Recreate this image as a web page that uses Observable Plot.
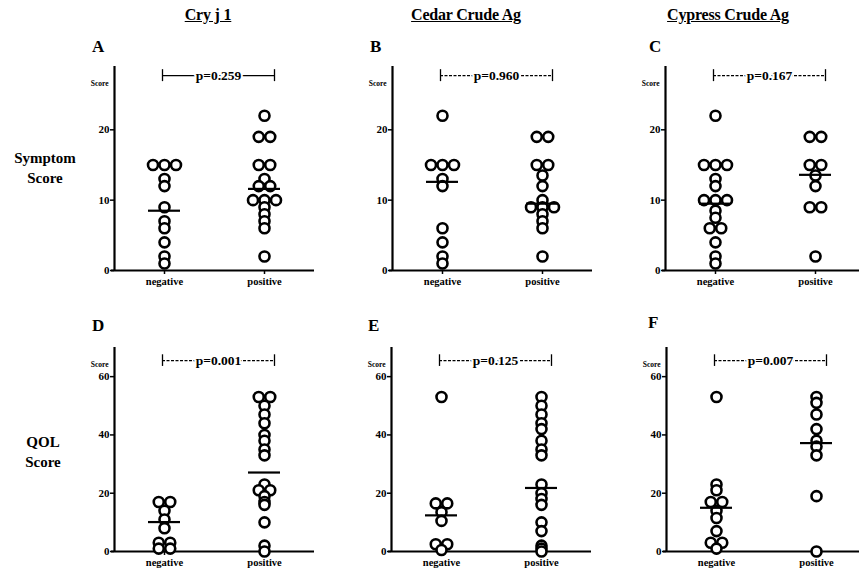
<!DOCTYPE html>
<html><head><meta charset="utf-8">
<script src="https://cdn.jsdelivr.net/npm/d3@7"></script>
<script src="https://cdn.jsdelivr.net/npm/@observablehq/plot@0.6"></script>
<style>
body{margin:0;background:#fff;}
#root{position:relative;width:859px;height:581px;overflow:hidden;font-family:"Liberation Serif",serif;color:#000;}
#root svg{max-width:none !important;overflow:visible;}
#root svg, #root svg text{font-family:"Liberation Serif",serif !important;}
.abs{position:absolute;}
.title{font-weight:bold;font-size:16px;text-decoration:underline;transform:translateX(-50%);white-space:nowrap;letter-spacing:-0.2px;}
.letter{font-weight:bold;font-size:17px;}
.row{font-weight:bold;font-size:15px;text-align:center;line-height:20px;transform:translateX(-50%);}
</style></head>
<body><div id="root"></div>
<script>
// ---- data ----
const categories = ["negative", "positive"];
const antigens = ["Cry j 1", "Cedar Crude Ag", "Cypress Crude Ag"];
const letters = ["A", "B", "C", "D", "E", "F"];
const rowLabels = [["Symptom", "Score"], ["QOL", "Score"]];

const symCryNeg   = [15, 15, 15, 13, 12, 9, 7, 6, 4, 2, 1];
const symCryPos   = [22, 19, 19, 15, 15, 13, 12, 12, 10, 10, 10, 9, 8, 7, 6, 2];
const symCedarNeg = [22, 15, 15, 15, 13, 12, 6, 4, 2, 1];
const symCedarPos = [19, 19, 15, 15, 13.5, 12, 10, 9, 9, 9, 8, 7, 6, 2];
const symCypNeg   = [22, 15, 15, 15, 13, 12, 10, 10, 10, 8.5, 7.5, 6, 6, 4, 2, 1];
const symCypPos   = [19, 19, 15, 15, 13.5, 12, 9, 9, 2];

const qolCryNeg   = [17, 17, 14, 11, 8, 3, 3, 1, 1];
const qolCryPos   = [53, 53, 50, 47, 44, 40, 38, 35, 33, 23, 21, 21, 19, 17, 16, 10, 2, 0];
const qolCedarNeg = [53, 16.5, 16.5, 13.5, 10.5, 2.5, 2.5, 0.5];
const qolCedarPos = [53, 50, 47, 44, 42, 38, 35, 33, 23, 20, 18, 16, 10, 7, 2, 1, 0];
const qolCypNeg   = [53, 23, 21, 17, 17, 14, 11.5, 7, 3, 3, 1];
const qolCypPos   = [53, 51, 47, 42, 38, 36, 33, 19, 0];

const meanSym = [[8.5, 11.6], [12.6, 9.5], [9.5, 13.6]];
const meanQol = [[10.1, 27.1], [12.4, 21.8], [15.0, 37.2]];
const pSym = ["0.259", "0.960", "0.167"];
const pQol = ["0.001", "0.125", "0.007"];
const symTicks = [0, 10, 20];
const qolTicks = [0, 20, 40, 60];

// ---- layout ----
const root = document.getElementById("root");
const axisLefts = [[114, 392, 665], [114, 391, 666]];
const frameTops = [66, 347];
const rows = [
  {vals: [[symCryNeg, symCryPos], [symCedarNeg, symCedarPos], [symCypNeg, symCypPos]], means: meanSym, p: pSym, yMax: 29, ticks: symTicks, bracketY: 27.7, half: 0.85},
  {vals: [[qolCryNeg, qolCryPos], [qolCedarNeg, qolCedarPos], [qolCypNeg, qolCypPos]], means: meanQol, p: pQol, yMax: 70, ticks: qolTicks, bracketY: 65.5, half: 2.0}
];

function swarm(values, ci) {
  const groups = d3.group(values, v => v);
  const out = [];
  for (const [v, arr] of groups) {
    arr.forEach((_, i) => out.push({x: ci + (i - (arr.length - 1) / 2) * 0.115, y: v}));
  }
  return out;
}

function addDiv(cls, left, top, html) {
  const d = document.createElement("div");
  d.className = "abs " + cls;
  d.style.left = left + "px"; d.style.top = top + "px";
  d.innerHTML = html;
  root.appendChild(d);
}

const titleCenters = [208, 466, 728];
antigens.forEach((t, i) => addDiv("title", titleCenters[i], 6, t));
addDiv("row", 45, 148, rowLabels[0].join("<br>"));
addDiv("row", 43, 432, rowLabels[1].join("<br>"));

const letterPos = [[92, 37], [370, 37], [649, 37], [92, 316], [368, 316], [648, 313]];

rows.forEach((row, r) => {
  for (let c = 0; c < 3; c++) {
    const pts = [...swarm(row.vals[c][0], 0), ...swarm(row.vals[c][1], 1)];
    const means = categories.map((_, i) => ({x1: i - 0.16, x2: i + 0.16, y: row.means[c][i]}));
    const b1 = -0.02, b2 = 1.1, by = row.bracketY, h = row.half;
    const label = "p=" + row.p[c];
    const dash = (r === 0 && c === 0) ? null : "3,1.5";
    const plot = Plot.plot({
      width: 255, height: 244,
      marginLeft: 50, marginRight: 5, marginTop: 10, marginBottom: 30,
      style: {fontWeight: "bold", fontSize: "11px", background: "transparent", overflow: "visible"},
      x: {domain: [-0.5, 1.5]},
      y: {domain: [0, row.yMax]},
      marks: [
        Plot.axisY({ticks: row.ticks, tickSize: 4, tickPadding: 1, tickFormat: d => d, label: null, fontSize: 11, fontWeight: "bold", strokeWidth: 1.5}),
        Plot.axisX({ticks: [0, 1], tickSize: 4, tickPadding: 3, tickFormat: i => categories[i], label: null, fontSize: 10.5, fontWeight: "bold", strokeWidth: 1.5}),
        Plot.ruleX([-0.5], {y1: 0, y2: row.yMax, strokeWidth: 2.2}),
        Plot.ruleY([0], {x1: -0.53, x2: 1.5, strokeWidth: 2.2}),
        Plot.text(["Score"], {frameAnchor: "top-left", textAnchor: "end", dx: -6, dy: 14, fontSize: 7.5, fontWeight: "bold"}),
        Plot.ruleY([by], {x1: b1, x2: b2, strokeWidth: 1.2, strokeDasharray: dash}),
        Plot.ruleX([b1, b2], {y1: by - h, y2: by + h, strokeWidth: 1.3}),
        Plot.text([label], {x: (b1 + b2) / 2, y: by, fontSize: 13.5, fontWeight: "bold", fill: "black", stroke: "white", strokeWidth: 4}),
        Plot.dot(pts, {x: "x", y: "y", r: 5, stroke: "black", strokeWidth: 2.6, fill: "white"}),
        Plot.ruleY(means, {x1: "x1", x2: "x2", y: "y", strokeWidth: 2.2})
      ]
    });
    const wrap = document.createElement("div");
    wrap.className = "abs";
    wrap.style.left = (axisLefts[r][c] - 50) + "px";
    wrap.style.top = (frameTops[r] - 10) + "px";
    wrap.appendChild(plot);
    root.appendChild(wrap);
    const lp = letterPos[r * 3 + c];
    addDiv("letter", lp[0], lp[1], letters[r * 3 + c]);
  }
});
</script></body></html>
